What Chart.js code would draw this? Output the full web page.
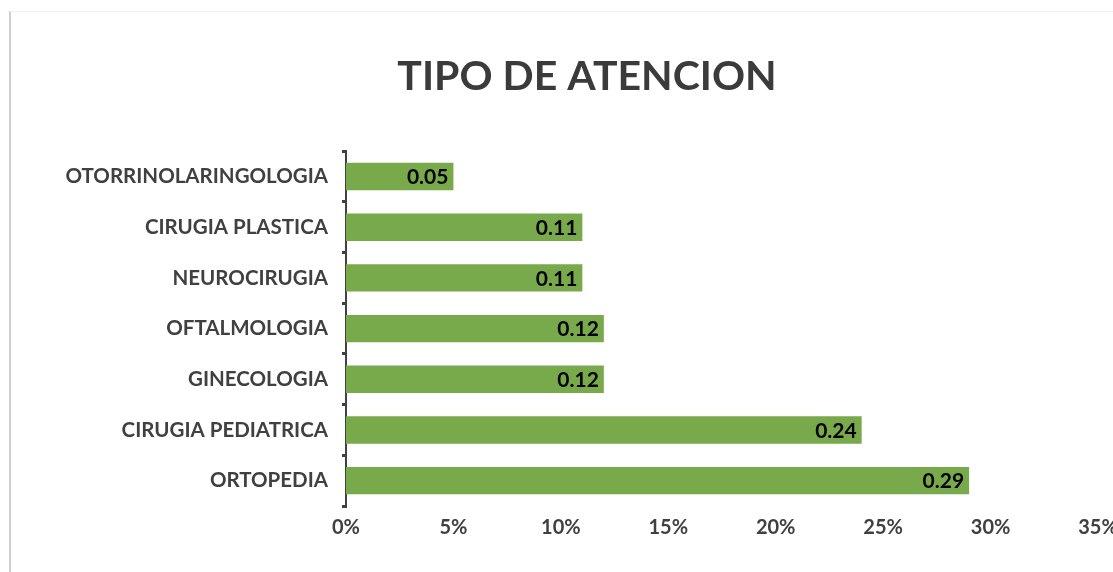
<!DOCTYPE html>
<html>
<head>
<meta charset="utf-8">
<script src="https://cdn.jsdelivr.net/npm/chart.js@4/dist/chart.umd.min.js"></script>
<style>
  html, body { margin: 0; padding: 0; background: #fff; overflow: hidden; }
  #wrap { position: relative; width: 1200px; height: 572px; }
  #frame { position: absolute; left: 9px; top: 11px; width: 1200px; height: 600px;
           border-left: 2px solid #cfcfcf; border-top: 1px solid #f0f0f0; }
  canvas { position: absolute; left: 0; top: 0; }
</style>
</head>
<body>
<div id="wrap">
  <div id="frame"></div>
  <canvas id="chart" width="1200" height="572"></canvas>
</div>
<script>
// chart data
const categories = ['OTORRINOLARINGOLOGIA', 'CIRUGIA PLASTICA', 'NEUROCIRUGIA', 'OFTALMOLOGIA',
                    'GINECOLOGIA', 'CIRUGIA PEDIATRICA', 'ORTOPEDIA'];
const shares = [0.05, 0.11, 0.11, 0.12, 0.12, 0.24, 0.29];
const tickValues = [0, 0.05, 0.10, 0.15, 0.20, 0.25, 0.30, 0.35];
const chartTitle = 'TIPO DE ATENCION';

const FONT = 'Lato, "Open Sans", sans-serif';

// value labels at the end of each bar
const barLabels = {
    id: 'barLabels',
    afterDatasetsDraw(chart) {
        const ctx = chart.ctx;
        const meta = chart.getDatasetMeta(0);
        ctx.save();
        ctx.font = 'bold 21px ' + FONT;
        ctx.fillStyle = '#000';
        ctx.textAlign = 'right';
        ctx.textBaseline = 'middle';
        meta.data.forEach((bar, i) => {
            ctx.fillText(shares[i].toFixed(2), bar.x - 5, bar.y + 1);
        });
        ctx.restore();
    }
};

// let the long category names use the space left of the padding (labels are clipped to the scale box)
const widenLabelArea = {
    id: 'widenLabelArea',
    afterLayout(chart) {
        chart.scales.y.left = 0;
    }
};

function setupChart() {
    const ctx = document.getElementById('chart').getContext('2d');
    new Chart(ctx, {
        type: 'bar',
        data: {
            labels: categories,
            datasets: [{
                data: shares,
                backgroundColor: '#78a94b',
                borderWidth: 0,
                barPercentage: 0.54,
                categoryPercentage: 1
            }]
        },
        options: {
            indexAxis: 'y',
            responsive: false,
            animation: false,
            layout: { padding: { left: 76, right: 102, top: 0, bottom: 22 } },
            plugins: {
                legend: { display: false },
                tooltip: { enabled: false },
                title: {
                    display: true,
                    text: chartTitle,
                    color: '#3b3b3b',
                    font: { family: FONT, size: 41, weight: 'bold', lineHeight: 1.2 },
                    padding: { top: 52, bottom: 50 }
                }
            },
            scales: {
                x: {
                    min: 0,
                    max: 0.35,
                    afterBuildTicks: (scale) => {
                        scale.ticks = tickValues.map(v => ({ value: v }));
                    },
                    grid: { display: false, drawTicks: false },
                    border: { display: false },
                    ticks: {
                        padding: 10,
                        color: '#404040',
                        font: { family: FONT, size: 20, weight: 'bold' },
                        callback: (v) => Math.round(v * 100) + '%'
                    }
                },
                y: {
                    afterFit: (scale) => { scale.width = 270; },
                    grid: { drawOnChartArea: false, color: '#404040', lineWidth: 3, tickLength: 4 },
                    border: { display: true, color: '#404040', width: 2 },
                    ticks: {
                        padding: 14,
                        color: '#404040',
                        font: { family: FONT, size: 20.5, weight: 'bold' }
                    }
                }
            }
        },
        plugins: [barLabels, widenLabelArea]
    });
}

window.onload = () => {
    setupChart();
};
</script>
</body>
</html>
